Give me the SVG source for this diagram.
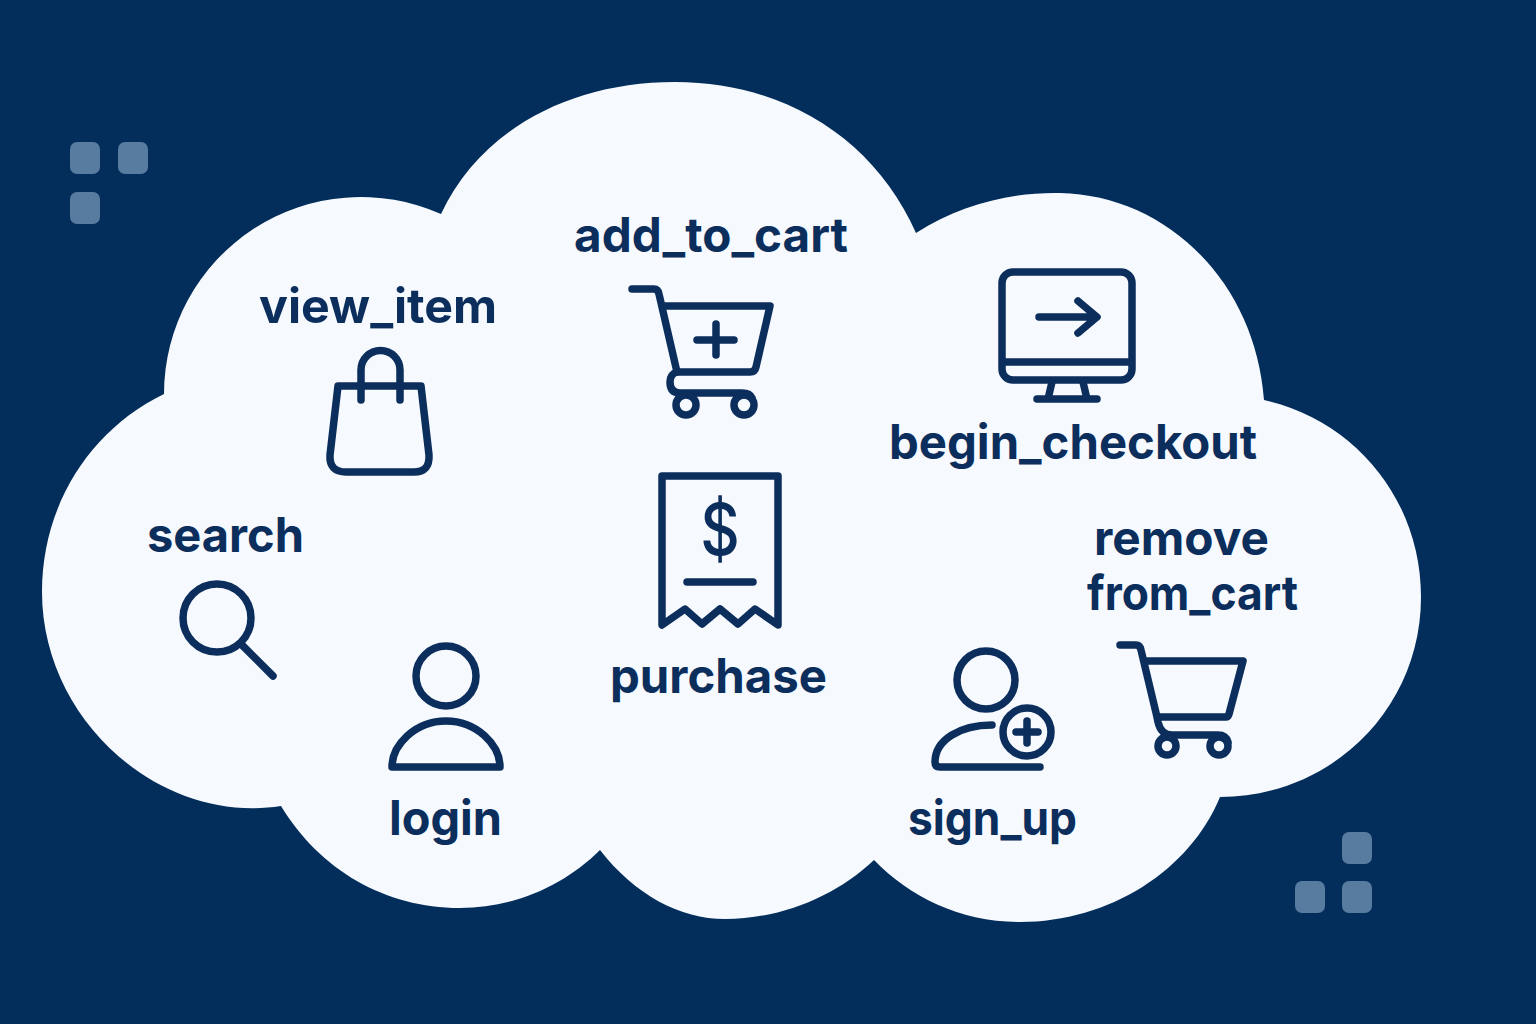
<svg xmlns="http://www.w3.org/2000/svg" width="1536" height="1024" viewBox="0 0 1536 1024">
<style>
.t{font-family:"Inter","Liberation Sans",sans-serif;font-weight:700;font-size:48px;fill:#0b2e5c;text-anchor:middle}
.i{fill:none;stroke:#0b2e5c;stroke-width:7.500;stroke-linecap:round;stroke-linejoin:round}
.s{fill:#8fb0cf;opacity:.6}
</style>
<rect width="1536" height="1024" fill="#032d5a"/>
<g id="decor">
<rect class="s" x="70" y="142" width="30" height="32" rx="7"/><rect class="s" x="118" y="142" width="30" height="32" rx="7"/><rect class="s" x="70" y="192" width="30" height="32" rx="7"/>
<rect class="s" x="1342" y="832" width="30" height="32" rx="7"/><rect class="s" x="1295" y="881" width="30" height="32" rx="7"/><rect class="s" x="1342" y="881" width="30" height="32" rx="7"/>
</g>
<path id="cloud" fill="#f6f9fe" d="M441 214C480 130 570 82 675 82C785 82 875 140 916 233C960 205 1010 192 1060 193C1165 195 1255 280 1264 400C1355 420 1421 500 1421 597C1421 710 1330 797 1220 797C1190 870 1110 922 1020 922C960 922 910 897 874 860C835 897 780 919 725 919C680 919 635 895 600 850C565 885 515 908 460 908C385 908 320 870 281 806C160 825 42 720 42 592C42 505 90 430 164 394A197 197 0 0 1 441 214Z"/>
<g id="view_item"><text class="t" x="378" y="323" textLength="238" lengthAdjust="spacingAndGlyphs">view_item</text>
<path class="i" d="M338 386H421L429 455Q430 472 414 472H346Q329 472 330 455Z"/><path class="i" d="M361 400V370A19.500 19.500 0 0 1 400 370V400"/></g>
<g id="add_to_cart"><text class="t" x="711" y="252" textLength="274" lengthAdjust="spacingAndGlyphs">add_to_cart</text>
<path class="i" d="M632 289H654Q658 289 659 294L677 372H750Q755 372 756 367L770 306H664"/><path class="i" d="M677 372Q670 374 670 382Q670 393 680 393H742Q750 393 752 398M716 324V355M697 340H734"/><circle class="i" cx="686" cy="405" r="10"/><circle class="i" cx="744" cy="405" r="10"/></g>
<g id="begin_checkout"><rect class="i" x="1002" y="272" width="130" height="108" rx="11"/><path class="i" d="M1003 362H1131M1052 382L1048 399M1083 382L1087 399M1037 399H1097M1039 317H1095M1078 301L1097 317L1078 333"/>
<text class="t" x="1073" y="459" textLength="368" lengthAdjust="spacingAndGlyphs">begin_checkout</text></g>
<g id="search"><text class="t" x="225.500" y="552" textLength="157" lengthAdjust="spacingAndGlyphs">search</text><circle class="i" cx="217" cy="618" r="34"/><path class="i" d="M242 645L273 676"/></g>
<g id="login"><circle class="i" cx="446" cy="676" r="30"/><path class="i" d="M392 767C392 745 415 721 446 721C477 721 500 745 500 767Z"/><text class="t" x="445.500" y="835" textLength="113" lengthAdjust="spacingAndGlyphs">login</text></g>
<g id="purchase"><path class="i" d="M662 476H778V625L755 609L738 624L720 609L702 624L685 609L662 625Z"/><path class="i" d="M687 582H753"/>
<text transform="translate(720 555) scale(.85 1)" font-family="Inter,'Liberation Sans',sans-serif" font-size="72" font-weight="500" fill="#0b2e5c" text-anchor="middle">$</text>
<text class="t" x="718.500" y="693" textLength="217" lengthAdjust="spacingAndGlyphs">purchase</text></g>
<g id="sign_up"><circle class="i" cx="986" cy="680" r="29"/><path class="i" d="M992 725C960 725 935 740 935 762Q935 767 940 767H1040"/><circle class="i" cx="1027" cy="732" r="24"/><path class="i" d="M1027 721V743M1016 732H1038"/>
<text class="t" x="992.500" y="835" textLength="169" lengthAdjust="spacingAndGlyphs">sign_up</text></g>
<g id="remove_from_cart"><text class="t" x="1181.500" y="555" textLength="175" lengthAdjust="spacingAndGlyphs">remove</text><text class="t" x="1192.500" y="610" textLength="211" lengthAdjust="spacingAndGlyphs">from_cart</text>
<path class="i" d="M1120 645H1136Q1140 645 1141 650L1157 717H1226Q1228 717 1229 714L1243 661H1145M1157 717L1158 722Q1161 735 1172 735H1218Q1226 735 1228 742"/><circle class="i" cx="1167" cy="746" r="9"/><circle class="i" cx="1219" cy="746" r="9"/></g>
<g id="connectors"/>
</svg>
